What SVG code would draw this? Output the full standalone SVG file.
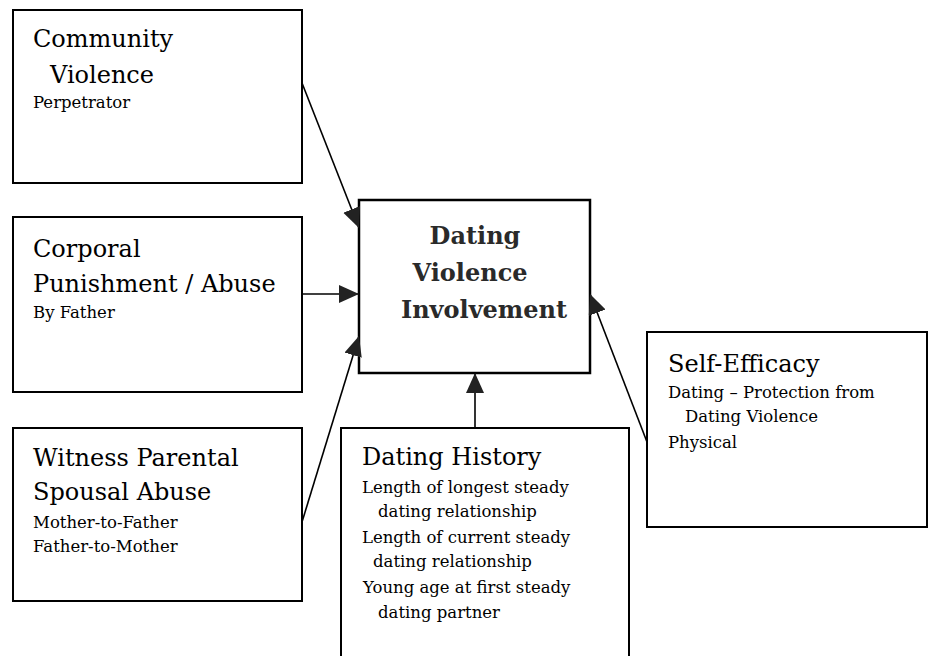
<svg xmlns="http://www.w3.org/2000/svg" width="928" height="656" viewBox="0 0 928 656">
<style>
.box{fill:#fff;stroke:#000;stroke-width:2}
text{font-family:"DejaVu Serif","Liberation Serif",serif;fill:#000}
.big{font-size:24px}
.sm{font-size:16.5px}
.bold{font-size:24px;font-weight:bold;fill:#2a2a2a}
.con{stroke:#000;stroke-width:1.6;fill:none}
</style>
<defs>
<marker id="ah" markerUnits="userSpaceOnUse" markerWidth="22" markerHeight="20" refX="20" refY="9" orient="auto">
<path d="M0,0 L20,9 L0,18 z" fill="#222"/>
</marker>
</defs>
<rect width="928" height="656" fill="#fff"/>
<g id="community">
<rect class="box" x="13" y="10" width="289" height="173"/>
<text class="big" x="33" y="47">Community</text>
<text class="big" x="50" y="83">Violence</text>
<text class="sm" x="33" y="108">Perpetrator</text>
</g>
<g id="corporal">
<rect class="box" x="13" y="217" width="289" height="175"/>
<text class="big" x="33" y="257">Corporal</text>
<text class="big" x="33" y="292">Punishment / Abuse</text>
<text class="sm" x="33" y="318">By Father</text>
</g>
<g id="witness">
<rect class="box" x="13" y="428" width="289" height="173"/>
<text class="big" x="33" y="466">Witness Parental</text>
<text class="big" x="33" y="500">Spousal Abuse</text>
<text class="sm" x="33" y="528">Mother-to-Father</text>
<text class="sm" x="33" y="552">Father-to-Mother</text>
</g>
<g id="dvi">
<rect class="box" x="359" y="200" width="231" height="173" style="stroke-width:2.5"/>
<text class="bold" x="475" y="244" text-anchor="middle">Dating</text>
<text class="bold" x="470" y="281" text-anchor="middle">Violence</text>
<text class="bold" x="484" y="318" text-anchor="middle">Involvement</text>
</g>
<g id="history">
<rect class="box" x="341" y="428" width="288" height="240"/>
<text class="big" x="362" y="465">Dating History</text>
<text class="sm" x="362" y="493">Length of longest steady</text>
<text class="sm" x="378" y="517">dating relationship</text>
<text class="sm" x="362" y="543">Length of current steady</text>
<text class="sm" x="373" y="567">dating relationship</text>
<text class="sm" x="363" y="593">Young age at first steady</text>
<text class="sm" x="378" y="618">dating partner</text>
</g>
<g id="selfefficacy">
<rect class="box" x="647" y="332" width="280" height="195"/>
<text class="big" x="668" y="372">Self-Efficacy</text>
<text class="sm" x="668" y="398">Dating – Protection from</text>
<text class="sm" x="685" y="422">Dating Violence</text>
<text class="sm" x="668" y="448">Physical</text>
</g>
<g id="connectors">
<line class="con" x1="302" y1="83" x2="359" y2="228" marker-end="url(#ah)"/>
<line class="con" x1="302" y1="294" x2="359" y2="294" marker-end="url(#ah)"/>
<line class="con" x1="302" y1="522" x2="359" y2="336" marker-end="url(#ah)"/>
<line class="con" x1="475" y1="428" x2="475" y2="373" marker-end="url(#ah)"/>
<line class="con" x1="647" y1="442" x2="590" y2="294" marker-end="url(#ah)"/>
</g>
</svg>
